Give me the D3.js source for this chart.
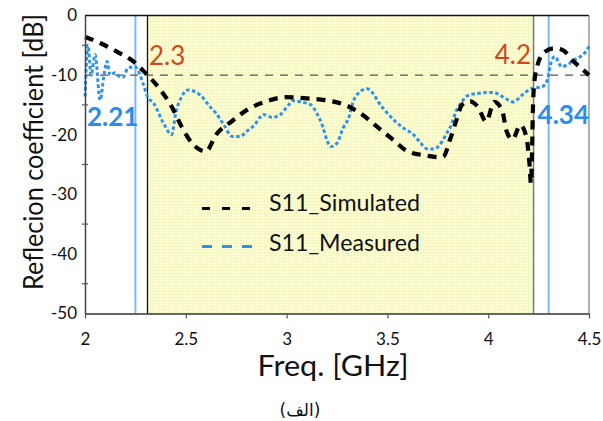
<!DOCTYPE html>
<html>
<head>
<meta charset="utf-8">
<script src="https://cdn.jsdelivr.net/npm/d3@7"></script>
<style>
  html, body { margin: 0; padding: 0; background: #fff; }
  svg { display: block; }
  text { font-family: Lato, "Open Sans", sans-serif; }
</style>
</head>
<body>
<svg id="chart" width="603" height="421"></svg>
<script>
// ---------- data ----------
const simFreq = [2.00, 2.08, 2.16, 2.24, 2.31, 2.375, 2.43, 2.48, 2.53, 2.60, 2.65, 2.73, 2.81, 2.90, 3.00, 3.10, 3.19, 3.29, 3.37, 3.45, 3.53, 3.60, 3.69, 3.76, 3.78, 3.81, 3.84, 3.87, 3.91, 3.95, 3.99, 4.03, 4.07, 4.09, 4.12, 4.16, 4.19, 4.205, 4.212, 4.218, 4.222, 4.228, 4.24, 4.28, 4.33, 4.37, 4.42, 4.46, 4.50];
const simDb   = [-3.6, -4.7, -6.1, -7.7, -10.0, -12.5, -15.3, -18.7, -21.4, -22.8, -20.0, -17.7, -15.7, -14.4, -13.7, -13.9, -14.2, -15.0, -16.5, -18.7, -20.9, -22.8, -23.5, -23.8, -23.6, -20.9, -17.8, -15.0, -14.4, -15.4, -17.8, -14.5, -16.0, -19.3, -20.8, -18.4, -20.5, -25.0, -28.2, -22.0, -15.5, -11.5, -8.9, -6.1, -5.5, -5.8, -7.6, -8.8, -10.0];

const measFreq = [2.000, 2.015, 2.030, 2.050, 2.075, 2.094, 2.110, 2.124, 2.149, 2.169, 2.190, 2.213, 2.248, 2.288, 2.310, 2.340, 2.390, 2.430, 2.450, 2.480, 2.510, 2.570, 2.620, 2.650, 2.690, 2.730, 2.770, 2.800, 2.840, 2.870, 2.885, 2.930, 2.970, 3.010, 3.030, 3.070, 3.120, 3.150, 3.180, 3.200, 3.220, 3.250, 3.280, 3.310, 3.330, 3.360, 3.400, 3.430, 3.455, 3.500, 3.540, 3.580, 3.630, 3.660, 3.700, 3.730, 3.760, 3.790, 3.820, 3.840, 3.870, 3.890, 3.940, 4.025, 4.070, 4.125, 4.170, 4.220, 4.265, 4.290, 4.315, 4.330, 4.365, 4.405, 4.440, 4.470, 4.500];
const measDb   = [-13.6, -5.0, -10.0, -6.6, -14.2, -10.0, -7.7, -10.0, -9.6, -10.2, -10.3, -8.8, -8.6, -11.4, -13.6, -14.7, -18.1, -20.0, -16.4, -13.6, -12.5, -13.3, -15.3, -16.4, -18.4, -20.3, -20.3, -19.5, -18.4, -17.0, -16.6, -17.1, -16.6, -15.0, -14.3, -14.5, -15.0, -16.4, -18.7, -20.9, -22.0, -21.4, -18.9, -17.0, -14.5, -12.9, -12.3, -13.1, -14.5, -16.4, -17.8, -18.9, -20.0, -21.2, -22.4, -22.4, -21.7, -20.0, -18.1, -16.1, -14.5, -13.6, -13.1, -12.9, -13.6, -14.5, -13.3, -12.2, -12.0, -11.1, -7.5, -6.9, -8.6, -8.0, -7.2, -6.6, -5.2];

const xTicks = [2, 2.5, 3, 3.5, 4, 4.5];
const yTicks = [0, -10, -20, -30, -40, -50];
const yMinorTicks = [-5, -15, -25, -35, -45];
const refLevel = -10;
const band = [2.31, 4.225];          // shaded band edges (as drawn)
const bandLabels = ["2.3", "4.2"];
const markerFreqs = [2.25, 4.30];    // blue marker lines (as drawn)
const markerLabels = ["2.21", "4.34"];
const seriesNames = ["S11_Simulated", "S11_Measured"];

// ---------- layout ----------
const svg = d3.select("#chart");
const x = d3.scaleLinear().domain([2, 4.5]).range([85, 589]);
const y = d3.scaleLinear().domain([-50, 0]).range([313.5, 15.5]);

// pattern for yellow band
const defs = svg.append("defs");
const pat = defs.append("pattern").attr("id", "yel").attr("patternUnits", "userSpaceOnUse")
  .attr("width", 3).attr("height", 3);
pat.append("rect").attr("width", 3).attr("height", 3).attr("fill", "#FFFFD6");
pat.append("path").attr("d", "M0,0.5H3M0.5,0V3").attr("stroke", "#F6F6C2").attr("stroke-width", 1);

// band
svg.append("rect")
  .attr("x", x(band[0])).attr("y", y(0))
  .attr("width", x(band[1]) - x(band[0])).attr("height", y(-50) - y(0))
  .attr("fill", "url(#yel)");
svg.append("line").attr("x1", x(band[0])).attr("x2", x(band[0]))
  .attr("y1", y(0)).attr("y2", y(-50)).attr("stroke", "#111").attr("stroke-width", 1.3);
svg.append("line").attr("x1", x(band[1])).attr("x2", x(band[1]))
  .attr("y1", y(0)).attr("y2", y(-50)).attr("stroke", "#777").attr("stroke-width", 1.5);

// marker lines
svg.selectAll(".marker").data(markerFreqs).enter().append("line")
  .attr("class", "marker")
  .attr("x1", d => x(d)).attr("x2", d => x(d))
  .attr("y1", y(0)).attr("y2", y(-50))
  .attr("stroke", "#7DB9F4").attr("stroke-width", 2);

// reference line
svg.append("line").attr("x1", x(2)).attr("x2", x(4.5))
  .attr("y1", y(refLevel)).attr("y2", y(refLevel))
  .attr("stroke", "#555").attr("stroke-width", 1.4).attr("stroke-dasharray", "8,7");

// frame top/right
svg.append("line").attr("x1", x(2)).attr("x2", x(4.5)).attr("y1", y(0)).attr("y2", y(0))
  .attr("stroke", "#111").attr("stroke-width", 1.3);
svg.append("line").attr("x1", x(4.5)).attr("x2", x(4.5)).attr("y1", y(0)).attr("y2", y(-50))
  .attr("stroke", "#888").attr("stroke-width", 1.3);

// curves
const line = d3.line().x(d => x(d[0])).y(d => y(d[1])).curve(d3.curveMonotoneX);
const simData = simFreq.map((f, i) => [f, simDb[i]]);
const measData = measFreq.map((f, i) => [f, measDb[i]]);

svg.append("path").datum(measData).attr("d", line)
  .attr("fill", "none").attr("stroke", "#2B93EE").attr("stroke-width", 3)
  .attr("stroke-dasharray", "3.5,2.5");
svg.append("path").datum(simData).attr("d", line)
  .attr("fill", "none").attr("stroke", "#000").attr("stroke-width", 4.2)
  .attr("stroke-dasharray", "9,7").attr("stroke-linecap", "butt");

// axes
const xAxis = svg.append("g").attr("transform", `translate(0,${y(-50)})`)
  .call(d3.axisBottom(x).tickValues(xTicks).tickSize(5).tickSizeOuter(0).tickFormat(d => String(d)));
xAxis.select(".domain").attr("stroke", "#333").attr("stroke-width", 1.5);
xAxis.selectAll(".tick line").attr("stroke", "#555").attr("stroke-width", 1.2);
xAxis.selectAll(".tick text").attr("font-size", 17).attr("fill", "#111")
  .attr("y", 0).attr("dy", 0).attr("transform", "translate(0,31)")
  .style("font-family", "Lato, sans-serif");

const yAxis = svg.append("g").attr("transform", `translate(${x(2)},0)`)
  .call(d3.axisLeft(y).tickValues(yTicks).tickSize(0).tickPadding(8).tickFormat(d => String(d)));
yAxis.select(".domain").attr("stroke", "#444").attr("stroke-width", 1.5);
yAxis.selectAll(".tick text").attr("font-size", 17).attr("fill", "#111")
  .style("font-family", "Lato, sans-serif");
svg.selectAll(".ymin").data(yMinorTicks).enter().append("line")
  .attr("class", "ymin")
  .attr("x1", x(2) - 3).attr("x2", x(2) + 3)
  .attr("y1", d => y(d)).attr("y2", d => y(d))
  .attr("stroke", "#555").attr("stroke-width", 1.2);

// titles
svg.append("text").text("Freq. [GHz]")
  .attr("x", 333).attr("y", 376).attr("text-anchor", "middle")
  .attr("font-size", 29).attr("fill", "#111")
  .attr("textLength", 151).attr("lengthAdjust", "spacingAndGlyphs");
svg.append("text").text("Reflecion coefficient [dB]")
  .attr("transform", "translate(43,152) rotate(-90)")
  .attr("text-anchor", "middle")
  .attr("font-size", 26).attr("fill", "#111")
  .attr("textLength", 276).attr("lengthAdjust", "spacingAndGlyphs");
svg.append("text").text("(الف)")
  .attr("x", 300).attr("y", 416).attr("text-anchor", "middle")
  .attr("font-size", 17).attr("fill", "#111")
  .style("font-family", "'DejaVu Sans', sans-serif");

// band labels
svg.append("text").text(bandLabels[0]).attr("x", 149).attr("y", 65)
  .attr("font-size", 26).attr("fill", "#D2461E");
svg.append("text").text(bandLabels[1]).attr("x", 531).attr("y", 64).attr("text-anchor", "end")
  .attr("font-size", 26).attr("fill", "#D2461E");

// marker labels
svg.append("text").text(markerLabels[0]).attr("x", 87).attr("y", 126)
  .attr("font-size", 26).attr("font-weight", "bold").attr("fill", "#2A8CF0");
svg.append("text").text(markerLabels[1]).attr("x", 589).attr("y", 124).attr("text-anchor", "end")
  .attr("font-size", 26).attr("font-weight", "bold").attr("fill", "#2A8CF0");

// legend
const leg = [
  {name: seriesNames[0], color: "#000", dash: "8,12", w: 2.8, ly: 208.5, ty: 211},
  {name: seriesNames[1], color: "#2B93EE", dash: "10,10", w: 2.8, ly: 246.5, ty: 251}
];
leg.forEach(l => {
  svg.append("line").attr("x1", 202).attr("x2", 252).attr("y1", l.ly).attr("y2", l.ly)
    .attr("stroke", l.color).attr("stroke-width", l.w).attr("stroke-dasharray", l.dash);
  svg.append("text").text(l.name).attr("x", 269).attr("y", l.ty)
    .attr("font-size", 24).attr("fill", "#111")
    .attr("textLength", 151).attr("lengthAdjust", "spacingAndGlyphs");
});
</script>
</body>
</html>
